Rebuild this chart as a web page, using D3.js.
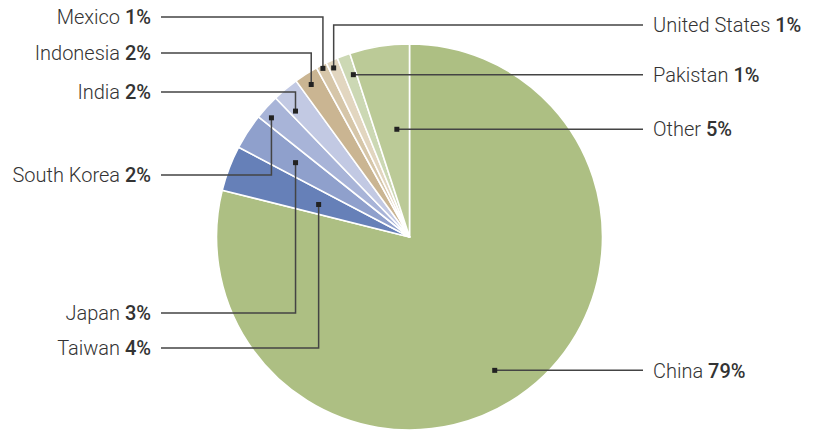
<!DOCTYPE html>
<html><head><meta charset="utf-8">
<script src="https://cdn.jsdelivr.net/npm/d3@7"></script>
<style>body{margin:0;background:#fff}svg{display:block}</style>
</head><body><svg id="c" width="820" height="431"></svg>
<script>
const categories = ["China","Taiwan","Japan","South Korea","India","Indonesia","Mexico","United States","Pakistan","Other"];
const values = [78.9,3.8,3.0,2.1,2.2,2.0,0.9,1.0,1.1,5.0];
const pctLabels = ["79%","4%","3%","2%","2%","2%","1%","1%","1%","5%"];
const colors = ["#adbf83","#6680b8","#8fa0cc","#a8b4d8","#c2c9e3","#cab592","#d6c6a9","#e2d6c0","#ccd8b4","#bbca97"];

// layout (not data): marker radius fraction, angle offset (deg), label side, label y (null = same as marker)
const layout = {
  China:{r:0.82, da:5.4, side:"right", y:null},
  Taiwan:{r:0.50, da:-1.2, side:"left", y:348},
  Japan:{r:0.705, da:0, side:"left", y:313},
  "South Korea":{r:0.945, da:-1.5, side:"left", y:175},
  India:{r:0.88, da:-2.2, side:"left", y:92},
  Indonesia:{r:0.94, da:-0.4, side:"left", y:53},
  Mexico:{r:0.982, da:0, side:"left", y:17},
  "United States":{r:0.96, da:-0.4, side:"right", y:25},
  Pakistan:{r:0.89, da:0.9, side:"right", y:null},
  Other:{r:0.562, da:2.3, side:"right", y:null}
};

const cx = 409.5, cy = 237, R = 193;
const svg = d3.select("#c");
const g = svg.append("g").attr("transform",`translate(${cx},${cy})`);
const pie = d3.pie().sort(null).value(d=>d.v);
const data = categories.map((c,i)=>({c, v:values[i], p:pctLabels[i], col:colors[i]}));
const arcs = pie(data);
const arc = d3.arc().innerRadius(0).outerRadius(R);

g.selectAll("path.s").data(arcs).join("path").attr("class","s")
  .attr("d",arc).attr("fill",d=>d.data.col)
  .attr("stroke","#fff").attr("stroke-width",1.6).attr("stroke-linejoin","round");

const leftX = 161, rightX = 643;
const lines = svg.append("g");
arcs.forEach(a=>{
  const L = layout[a.data.c];
  const ang = (a.startAngle+a.endAngle)/2 + L.da*Math.PI/180;
  const mx = cx + Math.sin(ang)*R*L.r;
  const my = cy - Math.cos(ang)*R*L.r;
  const ly = L.y==null ? my : L.y;
  const ex = L.side==="left" ? leftX : rightX;
  lines.append("path")
    .attr("d",`M${mx},${my}L${mx},${ly}L${ex},${ly}`)
    .attr("fill","none").attr("stroke","#444").attr("stroke-width",1.5);
  lines.append("rect").attr("x",mx-2.5).attr("y",my-2.5).attr("width",5).attr("height",5).attr("fill","#222");
  const t = svg.append("text")
    .attr("x", L.side==="left" ? 151 : 653)
    .attr("y", ly)
    .attr("dy","0.36em")
    .attr("text-anchor", L.side==="left" ? "end" : "start")
    .attr("font-family","Roboto, 'Helvetica Neue', Arial, sans-serif")
    .attr("font-size",20).attr("fill","#333");
  t.append("tspan").attr("font-weight",300).text(a.data.c+" ");
  t.append("tspan").attr("font-weight",500).text(a.data.p);
});
</script></body></html>
